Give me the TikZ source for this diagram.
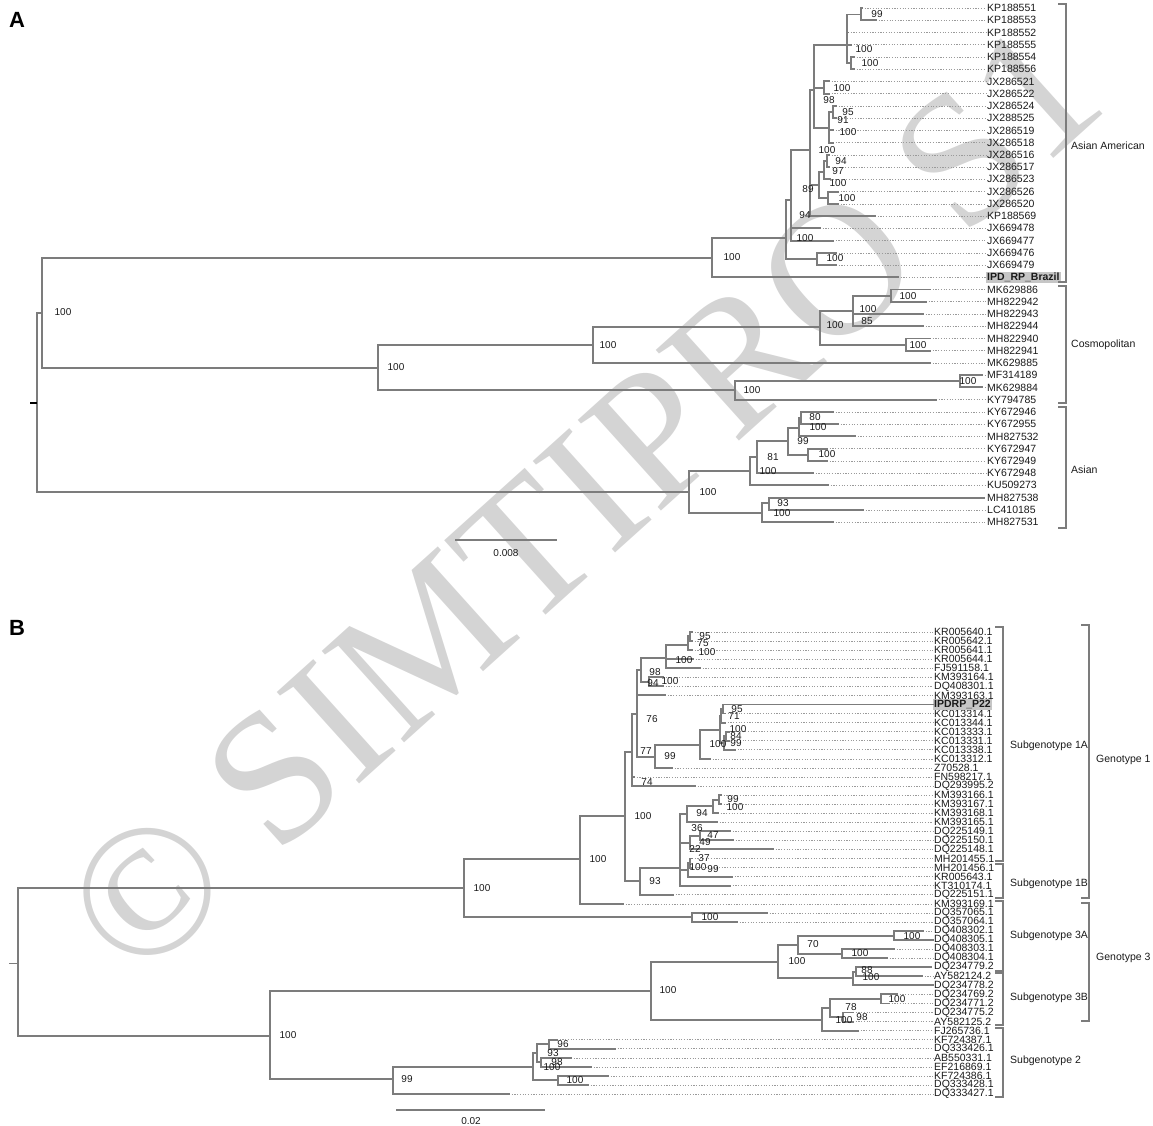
\documentclass[tikz,border=0pt]{standalone}
\usepackage{fontspec}
\setmainfont{Liberation Sans}
\newfontfamily\wmfont{Liberation Serif}
\definecolor{brgray}{HTML}{7C7C7C}
\definecolor{ldgray}{HTML}{9A9A9A}
\definecolor{wmgray}{HTML}{D4D4D4}
\definecolor{hlgray}{HTML}{C6C6C6}
\definecolor{txtblk}{HTML}{1A1A1A}
% internal node of the tree: name, position, children
\newcommand{\mkclade}[3]{\coordinate (#1) at (#2);
  \foreach \c in {#3} {\draw[branch] (#1) |- (\c);}}

\begin{document}
\begin{tikzpicture}[x=1pt, y=-1pt,
  branch/.style={draw=brgray, line width=1.9pt, line cap=rect},
  leader/.style={draw=ldgray, line width=0.6pt, dash pattern=on 1.2pt off 1.5pt},
  leaflbl/.style={anchor=west, inner sep=1pt, text=txtblk, font=\fontsize{10.5}{10.5}\selectfont},
  hilite/.style={anchor=west, inner sep=1pt, fill=hlgray, text=txtblk,
    font=\fontsize{10.5}{10.5}\selectfont\bfseries},
  bs/.style={inner sep=0pt, text=txtblk, font=\fontsize{10}{10}\selectfont},
  bracket/.style={draw=brgray, line width=1.9pt},
  cladelbl/.style={anchor=west, inner sep=0pt, text=txtblk, font=\fontsize{10.5}{10.5}\selectfont},
  panel/.style={anchor=west, inner sep=0pt, text=black, font=\fontsize{22}{22}\selectfont\bfseries},
]
\useasboundingbox (0,0) rectangle (1153,1126);

% Watermark
\begin{scope}
  \clip (0,0) rectangle (1153,1126);
  \node[text=wmgray, inner sep=0pt, font=\wmfont\fontsize{188}{188}\selectfont, rotate=42]
    (wm) at (582,500) {© SIMTIPRO S1};
\end{scope}

% Panel letters
\node[panel] (pA) at (9,20) {A};
\node[panel] (pB) at (9,628) {B};

% ================= Panel A =================
% --- leaves ---
\foreach \i/\lab/\tip in {0/KP188551/862, 1/KP188553/876, 2/KP188552/848, 3/KP188555/851,
  4/KP188554/854, 5/KP188556/854, 6/JX286521/829, 7/JX286522/829, 8/JX286524/836,
  9/JX288525/836, 10/JX286519/833, 11/JX286518/833, 12/JX286516/829, 13/JX286517/829,
  14/JX286523/830, 15/JX286526/838, 16/JX286520/838, 17/KP188569/875, 18/JX669478/820,
  19/JX669477/833, 20/JX669476/836, 21/JX669479/836, 23/MK629886/930, 24/MH822942/926,
  25/MH822943/923, 26/MH822944/923, 27/MH822940/930, 28/MH822941/930, 29/MK629885/930,
  30/MF314189/982, 31/MK629884/982, 32/KY794785/936, 33/KY672946/833, 34/KY672955/838,
  35/MH827532/855, 36/KY672947/827, 37/KY672949/827, 38/KY672948/813, 39/KU509273/828,
  40/MH827538/984, 41/LC410185/863, 42/MH827531/833} {
  \pgfmathsetmacro\yy{8+12.24*\i}
  \node[leaflbl] (A\i) at (986,\yy) {\lab};
  \coordinate (At\i) at (\tip,\yy);
  \draw[leader] (At\i) -- (A\i.west);
}
\node[hilite] (A22) at (986,277.3) {IPD\_RP\_Brazil};
\coordinate (At22) at (898,277.3);
\draw[leader] (At22) -- (A22.west);

% --- Asian American ---
\mkclade{a1}{861,14.5}{At0,At1}
\mkclade{a2}{851,63}{At4,At5}
\mkclade{a3}{847,45}{a1,At2,At3,a2}
\mkclade{a4}{824,88}{At6,At7}
\mkclade{a5}{833,112}{At8,At9}
\mkclade{a6}{829,128}{a5,At10,At11}
\mkclade{a7}{814,90}{a3,a4,a6}
\mkclade{a8}{827,161}{At12,At13}
\mkclade{a8b}{824,172}{a8,At14}
\mkclade{a10}{828,198}{At15,At16}
\mkclade{a9}{819,185}{a8b,a10}
\mkclade{a11}{810,150}{a7,a9,At17}
\mkclade{a12}{791,200}{a11,At18,At19}
\mkclade{a13}{817,259}{At20,At21}
\mkclade{a14}{786,238}{a12,a13}
\mkclade{a15}{712,258}{a14,At22}
% --- Cosmopolitan ---
\mkclade{c1}{891,296}{At23,At24}
\mkclade{c2}{853,311}{c1,At25,At26}
\mkclade{c4}{906,344.6}{At27,At28}
\mkclade{c3}{820,327}{c2,c4}
\mkclade{c5}{593,345}{c3,At29}
\mkclade{c7}{960,381}{At30,At31}
\mkclade{c6}{735,390}{c7,At32}
\mkclade{c8}{378,368}{c5,c6}
\mkclade{r1}{42,313}{a15,c8}
% --- Asian ---
\mkclade{s1}{801,418}{At33,At34}
\mkclade{s1b}{799,428}{s1,At35}
\mkclade{s3}{808,455}{At36,At37}
\mkclade{s2}{788,441}{s1b,s3}
\mkclade{s4}{757,457}{s2,At38}
\mkclade{s5}{750,471}{s4,At39}
\mkclade{s8}{769,503}{At40,At41}
\mkclade{s7}{762,513}{s8,At42}
\mkclade{s6}{689,492}{s5,s7}
\mkclade{r0}{37,403}{r1,s6}
\coordinate (rootA) at (30,403);
\draw[black, line width=1.5pt] (rootA) -- (r0);

% --- bootstrap values ---
\foreach \x/\y/\v [count=\k] in {877/14.5/99, 864/49/100, 870/63/100, 842/88/100, 829/100/98,
  848/112/95, 843/120/91, 848/132/100, 827/150/100, 841/161/94, 838/171/97, 838/183/100,
  847/198/100, 808/189/89, 805/215/94, 805/238/100, 835/258/100, 732/257/100, 908/296/100,
  868/309/100, 867/321/85, 835/325/100, 918/345/100, 608/345/100, 968/381/100, 752/390/100,
  396/367/100, 63/312/100, 815/417/80, 818/427/100, 803/441/99, 827/454/100, 773/457/81,
  768/471/100, 708/492/100, 783/503/93, 782/513/100}
  \node[bs] (bsA\k) at (\x,\y) {\v};

% --- clade brackets ---
\draw[bracket] (1058,4) -- (1066,4) -- (1066,282) -- (1058,282);
\draw[bracket] (1058,286) -- (1066,286) -- (1066,403) -- (1058,403);
\draw[bracket] (1058,407) -- (1066,407) -- (1066,528) -- (1058,528);
\node[cladelbl] (asam) at (1071,146) {Asian American};
\node[cladelbl] (cosmo) at (1071,345) {Cosmopolitan};
\node[cladelbl] (asian) at (1071,470) {Asian};

% --- scale bar ---
\coordinate (sbA1) at (455,540);
\coordinate (sbA2) at (557,540);
\draw[branch, line cap=butt] (sbA1) -- (sbA2);
\node[bs] (sbAl) at (506,553) {0.008};

% ================= Panel B =================
% --- leaves ---
\foreach \i/\lab/\tip in {0/KR005640.1/692, 1/KR005642.1/692, 2/KR005641.1/692,
  3/KR005644.1/693, 4/FJ591158.1/700, 5/KM393164.1/663, 6/DQ408301.1/663, 7/KM393163.1/665,
  9/KC013314.1/725, 10/KC013344.1/725, 11/KC013333.1/729, 12/KC013331.1/729,
  13/KC013338.1/735, 14/KC013312.1/710, 15/Z70528.1/672, 16/FN598217.1/634,
  17/DQ293995.2/695, 18/KM393166.1/721, 19/KM393167.1/721, 20/KM393168.1/718,
  21/KM393165.1/717, 22/DQ225149.1/730, 23/DQ225150.1/733, 24/DQ225148.1/773,
  25/MH201455.1/692, 26/MH201456.1/692, 27/KR005643.1/732, 28/KT310174.1/730,
  29/DQ225151.1/673, 30/KM393169.1/623, 31/DQ357065.1/767, 32/DQ357064.1/737,
  33/DQ408302.1/923, 34/DQ408305.1/933, 35/DQ408303.1/894, 36/DQ408304.1/887,
  37/DQ234779.2/931, 38/AY582124.2/922, 39/DQ234778.2/933, 40/DQ234769.2/897,
  41/DQ234771.2/889, 42/DQ234775.2/853, 43/AY582125.2/853, 44/FJ265736.1/858,
  45/KF724387.1/557, 46/DQ333426.1/615, 47/AB550331.1/571, 48/EF216869.1/591,
  49/KF724386.1/608, 50/DQ333428.1/588, 51/DQ333427.1/509} {
  \pgfmathsetmacro\yy{632+9.06*\i}
  \node[leaflbl] (B\i) at (933,\yy) {\lab};
  \coordinate (Bt\i) at (\tip,\yy);
  \draw[leader] (Bt\i) -- (B\i.west);
}
\node[hilite] (B8) at (933,704.5) {IPDRP\_P22};
\coordinate (Bt8) at (933,704.5);

% --- Genotype 1 ---
\mkclade{b1a}{690,636}{Bt0,Bt1}
\mkclade{b1}{688,645}{b1a,Bt2}
\mkclade{b2}{666,658}{b1,Bt3,Bt4}
\mkclade{b4}{649,682}{Bt5,Bt6}
\mkclade{b3}{641,670}{b2,b4}
\mkclade{b10a}{723,709}{Bt8,Bt9}
\mkclade{b10b}{721,716}{b10a,Bt10}
\mkclade{b11a}{726,736}{Bt11,Bt12}
\mkclade{b11}{724,743}{b11a,Bt13}
\mkclade{b10}{720,730}{b10b,b11}
\mkclade{b9}{700,745}{b10,Bt14}
\mkclade{b8}{655,757}{b9,Bt15}
\mkclade{b6}{637,714}{b3,Bt7,b8}
\mkclade{b12}{632,752}{b6,Bt16,Bt17}
\mkclade{b15}{719,800}{Bt18,Bt19}
\mkclade{b15b}{713,806}{b15,Bt20}
\mkclade{b16}{687,814}{b15b,Bt21}
\mkclade{b17}{700,836}{Bt22,Bt23}
\mkclade{b17b}{690,843}{b17,Bt24}
\mkclade{b18}{690,863}{Bt25,Bt26}
\mkclade{b18b}{688,870}{b18,Bt27}
\mkclade{b19}{680,868}{b16,b17b,b18b,Bt28}
\mkclade{b20}{640,881}{b19,Bt29}
\mkclade{b13}{625,816}{b12,b20}
\mkclade{b21}{580,859}{b13,Bt30}
\mkclade{b23}{692,917}{Bt31,Bt32}
\mkclade{b22}{464,888}{b21,b23}
% --- Genotype 3 ---
\mkclade{b24}{894,936}{Bt33,Bt34}
\mkclade{b25}{842,954}{Bt35,Bt36}
\mkclade{b26}{798,945}{b24,b25}
\mkclade{b28a}{856,972}{Bt37,Bt38}
\mkclade{b28}{853,978}{b28a,Bt39}
\mkclade{b27}{778,962}{b26,b28}
\mkclade{b32}{881,999}{Bt40,Bt41}
\mkclade{b33}{843,1017}{Bt42,Bt43}
\mkclade{b31a}{830,1008}{b32,b33}
\mkclade{b31}{822,1020}{b31a,Bt44}
\mkclade{b29}{651,991}{b27,b31}
% --- Subgenotype 2 ---
\mkclade{b38}{549,1044}{Bt45,Bt46}
\mkclade{b39}{541,1062}{Bt47,Bt48}
\mkclade{b36}{537,1053}{b38,b39}
\mkclade{b37}{558,1080}{Bt49,Bt50}
\mkclade{b35}{533,1067}{b36,b37}
\mkclade{b34}{393,1079}{b35,Bt51}
\mkclade{b30}{270,1036}{b29,b34}
\mkclade{rB}{18,963}{b22,b30}
\coordinate (rootB) at (9,963);
\draw[brgray, line width=1pt] (rootB) -- (rB);

% --- bootstrap values ---
\foreach \x/\y/\v [count=\k] in {705/636/95, 703/643/75, 707/652/100, 684/660/100, 655/672/98,
  653/683/94, 670/681/100, 652/719/76, 737/709/95, 734/716/71, 738/729/100, 736/736/84,
  736/743/99, 718/744/100, 646/751/77, 670/756/99, 647/782/74, 733/799/99, 735/807/100,
  702/813/94, 697/828/36, 713/835/47, 705/842/49, 695/849/22, 704/858/37, 698/867/100,
  713/869/99, 643/816/100, 655/881/93, 598/859/100, 482/888/100, 710/917/100, 912/936/100,
  813/944/70, 860/953/100, 797/961/100, 867/970/88, 871/977/100, 897/999/100, 851/1007/78,
  862/1017/98, 844/1020/100, 668/990/100, 288/1035/100, 563/1044/96, 553/1053/93,
  557/1062/98, 552/1067/100, 575/1080/100, 407/1079/99}
  \node[bs] (bsB\k) at (\x,\y) {\v};

% --- subgenotype and genotype brackets ---
\draw[bracket] (995,627) -- (1003,627) -- (1003,861) -- (995,861);
\draw[bracket] (995,864) -- (1003,864) -- (1003,898) -- (995,898);
\draw[bracket] (995,901) -- (1003,901) -- (1003,971) -- (995,971);
\draw[bracket] (995,973) -- (1003,973) -- (1003,1025) -- (995,1025);
\draw[bracket] (995,1028) -- (1003,1028) -- (1003,1097) -- (995,1097);
\draw[bracket] (1081,625) -- (1089,625) -- (1089,898) -- (1081,898);
\draw[bracket] (1081,903) -- (1089,903) -- (1089,1021) -- (1081,1021);
\node[cladelbl] (sg1a) at (1010,746) {Subgenotype 1A};
\node[cladelbl] (sg1b) at (1010,884) {Subgenotype 1B};
\node[cladelbl] (sg3a) at (1010,936) {Subgenotype 3A};
\node[cladelbl] (sg3b) at (1010,998) {Subgenotype 3B};
\node[cladelbl] (sg2) at (1010,1061) {Subgenotype 2};
\node[cladelbl] (g1) at (1096,760) {Genotype 1};
\node[cladelbl] (g3) at (1096,958) {Genotype 3};

% --- scale bar ---
\coordinate (sbB1) at (396,1110);
\coordinate (sbB2) at (545,1110);
\draw[branch, line cap=butt] (sbB1) -- (sbB2);
\node[bs] (sbBl) at (471,1121) {0.02};

\end{tikzpicture}
\end{document}
